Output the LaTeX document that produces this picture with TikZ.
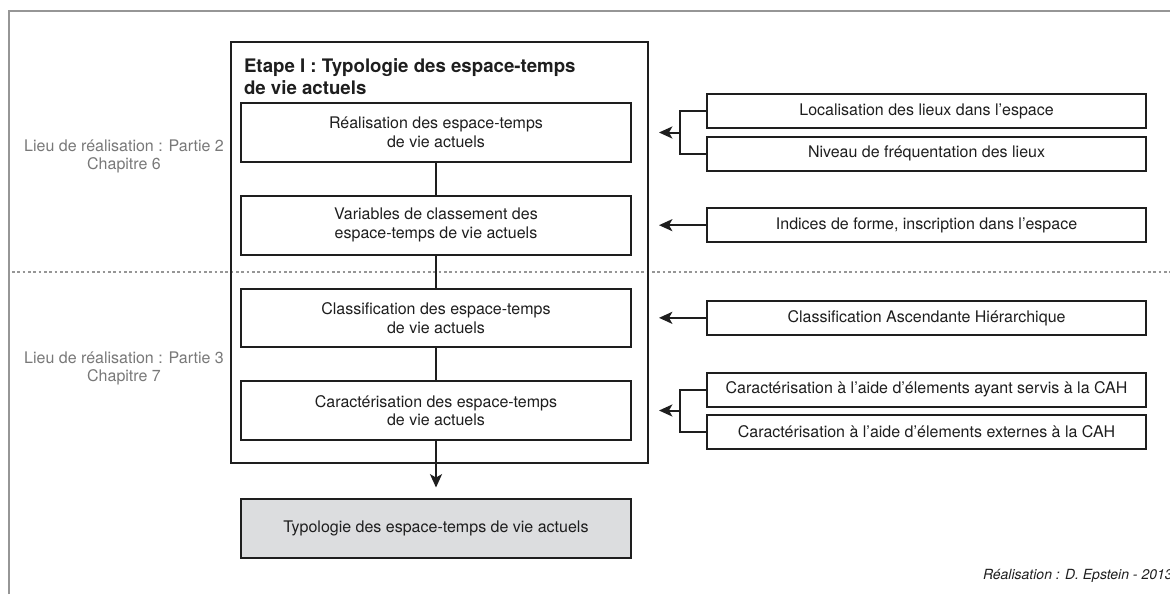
\documentclass[tikz,border=0pt]{standalone}
\usepackage{fontspec}
\setmainfont{TeX Gyre Heros}
\usetikzlibrary{arrows.meta}
\definecolor{darkline}{RGB}{30,30,30}
\definecolor{resultfill}{RGB}{220,221,223}
\definecolor{notegray}{RGB}{120,120,120}
\definecolor{framegray}{RGB}{150,150,150}

\begin{document}
\begin{tikzpicture}[x=0.75pt,y=-0.75pt,>={Stealth[length=10pt,width=9pt,inset=2.5pt]},
                    line width=1.5pt,color=darkline,node distance=69.5pt,
                    stage node/.style={rectangle,draw,minimum width=293pt,minimum height=44pt,align=center,font=\fontsize{12}{14}\selectfont},
                    input node/.style={rectangle,draw,minimum width=329pt,minimum height=25.5pt,font=\fontsize{12}{14}\selectfont},
                    side label/.style={align=center,text=notegray,font=\fontsize{12}{13.5}\selectfont}]
\useasboundingbox (0,0) rectangle (1170,594);
% Frame and separation between the two parts
\draw[framegray,line width=1.1pt] (9,594) -- (9,11) -- (1170,11);
\draw[framegray,line width=2pt,dash pattern=on 2pt off 2pt] (12,272) -- (1170,272);

% Create nodes for the stages
\node[draw,minimum width=312.75pt,minimum height=315.75pt,inner sep=0pt] (etape) at (439.5,252.5) {};
\node[anchor=north west,inner sep=0pt,align=left,font=\fontsize{14}{16}\selectfont\bfseries] (title) at (243,58) {Etape I : Typologie des espace-temps\\de vie actuels};
\node[stage node] (real) at (436,132.5) {Réalisation des espace-temps\\de vie actuels};
\node[stage node] (vars) [below of=real] {Variables de classement des\\espace-temps de vie actuels};
\node[stage node] (classif) [below of=vars] {Classification des espace-temps\\de vie actuels};
\node[stage node] (carac) [below of=classif] {Caractérisation des espace-temps\\de vie actuels};
\node[stage node,fill=resultfill] (typo) [below of=carac,node distance=88.5pt] {Typologie des espace-temps de vie actuels};

% Create nodes for the inputs
\node[input node,yshift=16pt] (loc) [right of=real,node distance=367.9pt] {Localisation des lieux dans l’espace};
\node[input node,yshift=-16pt] (niv) [right of=real,node distance=367.9pt] {Niveau de fréquentation des lieux};
\node[input node] (ind) [right of=vars,node distance=367.9pt] {Indices de forme, inscription dans l’espace};
\node[input node] (cah) [right of=classif,node distance=367.9pt] {Classification Ascendante Hiérarchique};
\node[input node,yshift=15.75pt] (servis) [right of=carac,node distance=367.9pt] {Caractérisation à l’aide d’élements ayant servis à la CAH};
\node[input node,yshift=-15.75pt] (externes) [right of=carac,node distance=367.9pt] {Caractérisation à l’aide d’élements externes à la CAH};

% Side labels
\node[side label] (partie2) at (124,156) {Lieu de réalisation : Partie 2\\Chapitre 6};
\node[side label] (partie3) at (124,368.5) {Lieu de réalisation : Partie 3\\Chapitre 7};
\node[anchor=base west,inner sep=0pt,font=\fontsize{10.5}{12}\selectfont\itshape] (credit) at (982,579) {Réalisation : D. Epstein - 2013};

% Create edges
\draw (real) -- (vars);
\draw (vars) -- (classif);
\draw (classif) -- (carac);
\draw[->,shorten >=8pt] (carac) -- (typo);
\draw (loc.west) -- ++(-19.5pt,0) coordinate (k1) |- (niv.west);
\draw[->] (k1 |- real.east) -- ([xshift=7.5pt]etape.east |- real.east);
\draw[->] (ind.west) -- ([xshift=7.5pt]etape.east |- ind.west);
\draw[->] (cah.west) -- ([xshift=7.5pt]etape.east |- cah.west);
\draw (servis.west) -- ++(-19.5pt,0) coordinate (k2) |- (externes.west);
\draw[->] (k2 |- carac.east) -- ([xshift=7.5pt]etape.east |- carac.east);
\end{tikzpicture}
\end{document}
